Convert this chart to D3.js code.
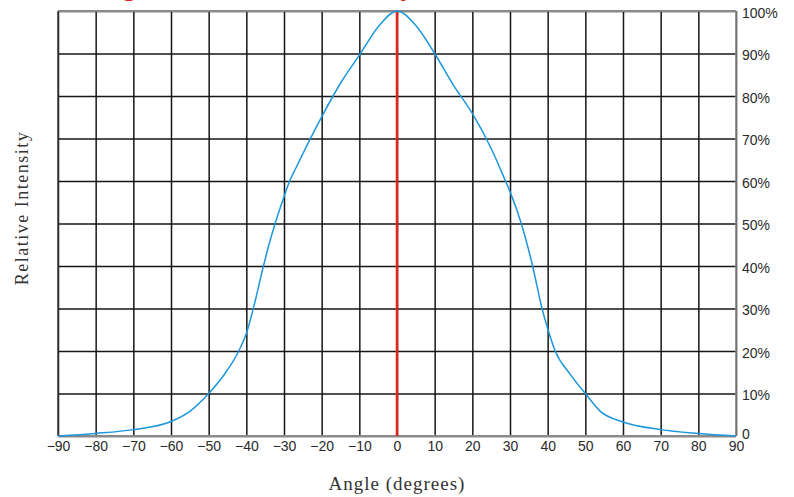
<!DOCTYPE html>
<html>
<head>
<meta charset="utf-8">
<script src="https://cdn.jsdelivr.net/npm/d3@7"></script>
<style>
  body { margin: 0; background: #fff; }
  svg { display: block; }
</style>
</head>
<body>
<script>
// data
var angles = [-90, -80, -70, -60, -55, -50, -46, -42, -40, -38, -36, -34, -32, -30, -28.5, -26.7, -23.2, -20, -15, -10, -4.6, 0,
              4.9, 10, 15, 20, 25.2, 28.8, 30, 33, 36, 38.5, 40, 42, 46, 50, 54, 60, 70, 80, 90];
var intensity = [0, 0.6, 1.5, 3.4, 5.8, 10, 14.3, 20, 24.1, 30.5, 38, 45, 51, 56.3, 60, 63.3, 69.6, 75.1, 83, 89.6, 96.7, 100,
                 96.7, 90, 82.5, 75.9, 67.3, 60, 57.5, 50, 40, 30, 25.3, 20, 14.5, 10, 5.8, 3.3, 1.5, 0.6, 0];
var xTicks = [-90, -80, -70, -60, -50, -40, -30, -20, -10, 0, 10, 20, 30, 40, 50, 60, 70, 80, 90];
var yTicks = [0, 10, 20, 30, 40, 50, 60, 70, 80, 90, 100];
var yTickLabels = ["0", "10%", "20%", "30%", "40%", "50%", "60%", "70%", "80%", "90%", "100%"];

var width = 794, height = 497;
var margin = {left: 58, right: 58, top: 11, bottom: 61};
var w = width - margin.left - margin.right;
var h = height - margin.top - margin.bottom;

var points = angles.map(function(a, i){ return {a: a, v: intensity[i]}; });

var svg = d3.select("body").append("svg")
    .attr("width", width)
    .attr("height", height);

// title, mostly cut off above the page
svg.append("text")
    .attr("x", 96)
    .attr("y", -5)
    .attr("fill", "#e0261f")
    .style("font-family", "'Liberation Serif', 'DejaVu Serif', serif")
    .style("font-size", "29px")
    .text("Light Distribution Intensity");

var g = svg.append("g").attr("transform", "translate(" + margin.left + "," + margin.top + ")");

var xScale = d3.scaleLinear().domain([-90, 90]).range([0, w]);
var yScale = d3.scaleLinear().domain([0, 100]).range([h, 0]);

// grid
g.append("g")
    .attr("class", "grid")
    .attr("transform", "translate(0," + h + ")")
    .call(d3.axisBottom(xScale).tickValues(xTicks).tickSize(-h).tickFormat(""))
    .call(function(s){ s.select(".domain").remove(); });

g.append("g")
    .attr("class", "grid")
    .call(d3.axisLeft(yScale).tickValues(yTicks).tickSize(-w).tickFormat(""))
    .call(function(s){ s.select(".domain").remove(); });

g.selectAll(".grid line")
    .attr("stroke", "#161616")
    .attr("stroke-width", 1.5);

// frame
g.append("line").attr("x1", 0).attr("x2", w).attr("y1", 0).attr("y2", 0)
    .attr("stroke", "#8a8a8a").attr("stroke-width", 2.2);
g.append("line").attr("x1", 0).attr("x2", w).attr("y1", h).attr("y2", h)
    .attr("stroke", "#8a8a8a").attr("stroke-width", 2.2);
g.append("line").attr("x1", w).attr("x2", w).attr("y1", 0).attr("y2", h)
    .attr("stroke", "#8a8a8a").attr("stroke-width", 1.6);
g.append("line").attr("x1", 0).attr("x2", 0).attr("y1", 0).attr("y2", h)
    .attr("stroke", "#3a3a3a").attr("stroke-width", 1.4);

// axes labels
var xAxis = g.append("g")
    .attr("transform", "translate(0," + h + ")")
    .call(d3.axisBottom(xScale).tickValues(xTicks).tickSize(0).tickPadding(5)
        .tickFormat(function(d){ return d < 0 ? "\u2212" + (-d) : d; }));
xAxis.select(".domain").remove();

var yAxis = g.append("g")
    .attr("transform", "translate(" + w + ",0)")
    .call(d3.axisRight(yScale).tickValues(yTicks).tickSize(0).tickPadding(6)
        .tickFormat(function(d, i){ return yTickLabels[i]; }));
yAxis.select(".domain").remove();
yAxis.selectAll(".tick text").attr("dy", function(d){ return d === 0 ? "0.2em" : "0.45em"; });

g.selectAll(".tick text")
    .attr("fill", "#2a2a2a")
    .style("font-family", "'Liberation Sans', Arial, sans-serif")
    .style("font-size", "14px");

// red center line
g.append("line")
    .attr("x1", xScale(0)).attr("x2", xScale(0))
    .attr("y1", yScale(100)).attr("y2", yScale(0))
    .attr("stroke", "#e0261f")
    .attr("stroke-width", 2.6);

// curve
var line = d3.line()
    .x(function(d){ return xScale(d.a); })
    .y(function(d){ return yScale(d.v); })
    .curve(d3.curveMonotoneX);

g.append("path")
    .datum(points)
    .attr("fill", "none")
    .attr("stroke", "#1b97dd")
    .attr("stroke-width", 1.5)
    .attr("d", line);

// titles
svg.append("text")
    .attr("transform", "translate(28,208) rotate(-90)")
    .attr("text-anchor", "middle")
    .attr("fill", "#333")
    .style("font-family", "'Liberation Serif', 'DejaVu Serif', serif")
    .style("font-size", "18px")
    .style("letter-spacing", "1.5px")
    .text("Relative  Intensity");

svg.append("text")
    .attr("x", margin.left + xScale(0))
    .attr("y", 490)
    .attr("text-anchor", "middle")
    .attr("fill", "#333")
    .style("font-family", "'Liberation Serif', 'DejaVu Serif', serif")
    .style("font-size", "19px")
    .style("letter-spacing", "1px")
    .text("Angle (degrees)");
</script>
</body>
</html>
